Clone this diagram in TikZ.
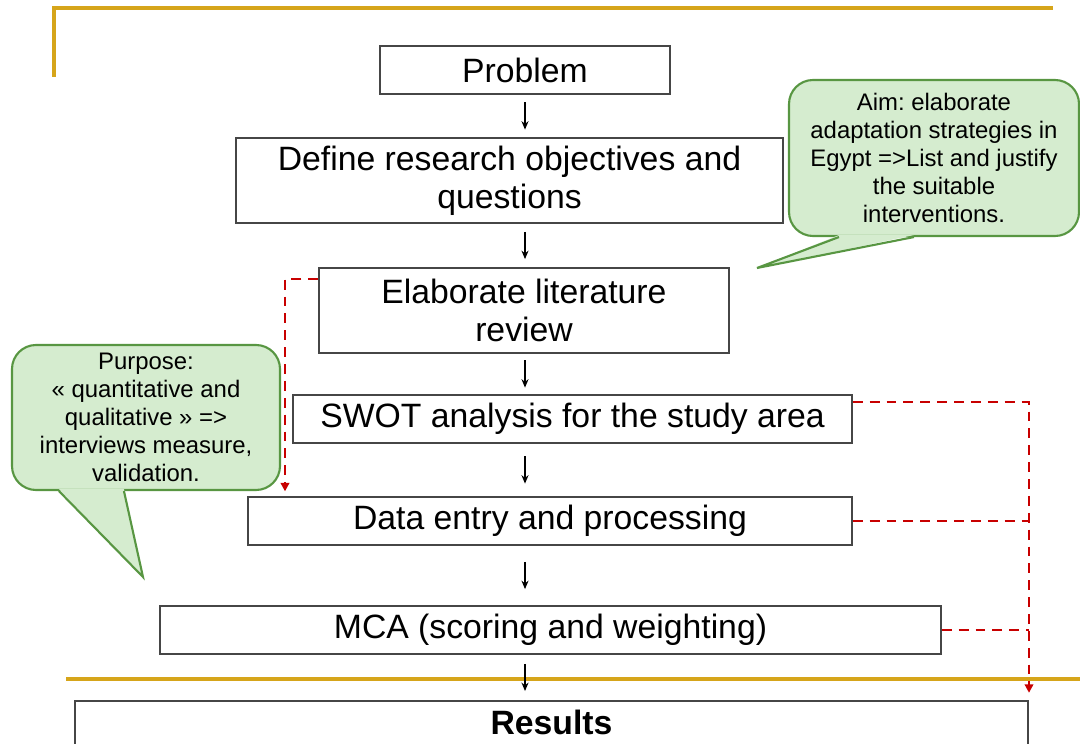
\documentclass[tikz,border=0pt]{standalone}
\usepackage{fontspec}
\setmainfont{Liberation Sans}
\usepackage{tikz}
\usetikzlibrary{
    positioning,
    arrows.meta,
    calc,
}
\usepackage{xcolor}
\definecolor{goldline}{RGB}{214,165,26}
\definecolor{boxgray}{RGB}{70,70,70}
\definecolor{notefill}{RGB}{213,236,207}
\definecolor{noteedge}{RGB}{88,150,66}
\definecolor{linkred}{RGB}{200,0,0}
\frenchspacing

\begin{document}
\begin{tikzpicture}[
    flowbox/.style={draw=boxgray,line width=1.2pt,rectangle,align=center,
                    inner sep=0pt,minimum height=1.2cm,
                    font=\fontsize{24}{27}\selectfont},
    flowarrow/.style={-{Stealth[length=6pt,width=5pt]},line width=1pt},
    note/.style={draw=noteedge,fill=notefill,line width=1.5pt,
                 rounded corners=0.6cm,align=center,
                 font=\fontsize{17}{19.9}\selectfont},
    link/.style={linkred,line width=1.6pt,dash pattern=on 7pt off 5pt,
                 -{Triangle[length=6pt,width=6pt]}},
    frame/.style={goldline,line width=2.4pt},
]
    \pgfmathsetmacro\ArrX{13.125}
    \pgfmathsetmacro\LeftX{7.125}
    \pgfmathsetmacro\RightX{25.725}
    \pgfmathsetmacro\ArrHalf{0.34}
    %
    \useasboundingbox (0,0) rectangle (27,-18.6);
    \clip (0,0) rectangle (27,-18.6);
    %
        % Gold frame
    \draw[frame] (1.35,-1.925) -- (1.35,-0.2) -- (26.325,-0.2);
    \draw[frame] (1.65,-16.975) -- (27,-16.975);
    %
        % Steps
    \node[flowbox,minimum width=7.25cm] (prob) at (13.125,-1.75) {Problem};
    \node[flowbox,minimum width=13.675cm,minimum height=2.125cm] (def) at (12.7375,-4.5125)
        {Define research objectives and\\questions};
    \node[flowbox,minimum width=10.25cm,minimum height=2.125cm] (lit) at (13.1,-7.7625)
        {Elaborate literature\\review};
    \node[flowbox,minimum width=13.975cm] (swot) at (14.3125,-10.475)
        {SWOT analysis for the study area};
    \node[flowbox,minimum width=15.1cm] (data) at (13.75,-13.025)
        {Data entry and processing};
    \node[flowbox,minimum width=19.525cm] (mca) at (13.7625,-15.75)
        {MCA (scoring and weighting)};
    \node[flowbox,minimum width=23.825cm,minimum height=1.6cm,anchor=north,
          text height=0.62cm,text depth=0.52cm,font=\fontsize{24}{27}\selectfont\bfseries]
        (res) at (13.7875,-17.5) {Results};
    %
        % Arrows between steps
    \coordinate (arrcol) at (\ArrX,0);
    \foreach \a/\b in {prob/def,def/lit,lit/swot,swot/data,data/mca,mca/res}
        \draw[flowarrow] ($(\a.south -| arrcol)!.5!(\b.north -| arrcol)$)
            ++(0,\ArrHalf) -- ++(0,-2*\ArrHalf);
    %
        % Dashed links
    \coordinate (leftcol) at (\LeftX,0);
    \coordinate (rightcol) at (\RightX,0);
    \draw[link,shorten >=0.12cm] ([yshift=-0.3cm]lit.north west) -| (data.north -| leftcol);
    \draw[link,shorten >=0.18cm] ([yshift=-0.2cm]swot.north east) -| (res.north -| rightcol);
    \draw[link,-] (data.east) -- (data.east -| rightcol);
    \draw[link,-] (mca.east) -- (mca.east -| rightcol);
    %
        % Note: aim
    \node[note,minimum width=7.25cm,minimum height=3.9cm] (aimnote) at (23.35,-3.95)
        {Aim: elaborate\\adaptation strategies in\\Egypt =>List and justify\\the suitable\\interventions.};
    \coordinate (aimtip) at (18.925,-6.7);
    \fill[notefill] ($(aimnote.south west)+(1.275,0.05)$) -- (aimtip)
        -- ($(aimnote.south west)+(3.15,0.05)$) -- cycle;
    \draw[noteedge,line width=1.5pt] ($(aimnote.south west)+(1.275,0)$) -- (aimtip)
        -- ($(aimnote.south west)+(3.15,0)$);
    %
        % Note: purpose
    \node[note,minimum width=6.7cm,minimum height=3.625cm] (purpnote) at (3.65,-10.4375)
        {Purpose:\\« quantitative and\\qualitative » =>\\interviews measure,\\validation.};
    \coordinate (purptip) at (3.575,-14.425);
    \fill[notefill] ($(purpnote.south west)+(1.2,0.05)$) -- (purptip)
        -- ($(purpnote.south west)+(2.825,0.05)$) -- cycle;
    \draw[noteedge,line width=1.5pt] ($(purpnote.south west)+(1.2,0)$) -- (purptip)
        -- ($(purpnote.south west)+(2.825,0)$);
\end{tikzpicture}
\end{document}
